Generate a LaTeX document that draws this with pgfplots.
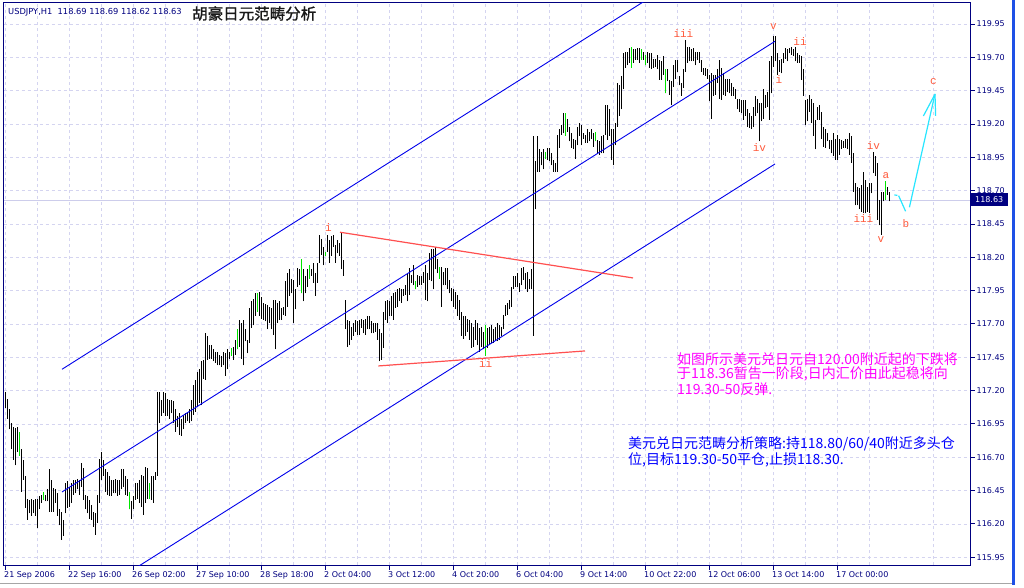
\documentclass[border=0pt]{standalone}
\usepackage{fontspec}
\setmainfont{Liberation Sans}
\newfontfamily\lblfont{DejaVu Sans}
\newfontfamily\cjk{Noto Sans CJK SC}
\newfontfamily\cjkb[FakeBold=1.2]{Noto Sans CJK SC}
\newfontfamily\wavefont{Liberation Mono}
\usepackage{pgfplots}
\usepackage{pgfplotstable}
\pgfplotsset{compat=1.18}

\definecolor{navyc}{RGB}{0,0,128}
\definecolor{gridc}{RGB}{212,212,240}
\definecolor{chanc}{RGB}{0,0,235}
\definecolor{tric}{RGB}{255,80,80}
\definecolor{wavec}{RGB}{255,90,60}
\definecolor{magc}{RGB}{255,0,255}
\definecolor{bluetxt}{RGB}{0,0,255}
\definecolor{greenbar}{RGB}{0,230,0}
\definecolor{projc}{RGB}{40,230,255}
\definecolor{lastc}{RGB}{205,205,235}
\definecolor{winblue}{RGB}{30,80,230}

\pgfplotstableread{
i lo hi
0 117.07 117.19
1 116.99 117.14
2 116.91 117.06
3 116.76 116.96
4 116.68 116.93
5 116.64 116.92
6 116.74 116.93
7 116.71 116.89
8 116.44 116.76
9 116.53 116.68
10 116.32 116.56
11 116.23 116.39
12 116.28 116.38
13 116.26 116.39
14 116.28 116.38
15 116.26 116.39
16 116.17 116.39
17 116.31 116.41
18 116.36 116.42
19 116.38 116.44
20 116.37 116.42
21 116.37 116.46
22 116.29 116.61
23 116.29 116.53
24 116.29 116.47
25 116.36 116.46
26 116.26 116.43
27 116.19 116.31
28 116.08 116.29
29 116.11 116.23
30 116.28 116.51
31 116.32 116.52
32 116.33 116.48
33 116.36 116.51
34 116.42 116.53
35 116.43 116.53
36 116.46 116.54
37 116.42 116.53
38 116.48 116.66
39 116.38 116.62
40 116.31 116.42
41 116.28 116.41
42 116.24 116.38
43 116.23 116.34
44 116.18 116.29
45 116.12 116.28
46 116.21 116.42
47 116.36 116.69
48 116.53 116.74
49 116.56 116.68
50 116.44 116.61
51 116.42 116.59
52 116.41 116.56
53 116.41 116.53
54 116.43 116.53
55 116.43 116.54
56 116.41 116.53
57 116.42 116.53
58 116.46 116.61
59 116.48 116.61
60 116.42 116.56
61 116.41 116.54
62 116.31 116.44
63 116.24 116.37
64 116.31 116.41
65 116.38 116.51
66 116.39 116.51
67 116.36 116.53
68 116.33 116.57
69 116.27 116.56
70 116.36 116.63
71 116.39 116.62
72 116.39 116.51
73 116.38 116.56
74 116.36 116.56
75 116.53 116.59
76 116.56 117.19
77 116.96 117.19
78 117.01 117.13
79 117.03 117.19
80 117.01 117.18
81 117.01 117.14
82 116.99 117.13
83 117.03 117.13
84 116.96 117.12
85 116.89 117.06
86 116.93 117.01
87 116.87 117.03
88 116.86 116.99
89 116.91 117.02
90 116.96 117.03
91 116.97 117.03
92 116.96 117.06
93 116.97 117.13
94 117.02 117.24
95 117.04 117.28
96 117.08 117.34
97 117.11 117.36
98 117.09 117.42
99 117.29 117.43
100 117.28 117.63
101 117.43 117.61
102 117.44 117.54
103 117.44 117.54
104 117.42 117.51
105 117.41 117.49
106 117.39 117.49
107 117.39 117.47
108 117.38 117.46
109 117.39 117.49
110 117.31 117.48
111 117.36 117.51
112 117.44 117.49
113 117.46 117.52
114 117.43 117.53
115 117.47 117.58
116 117.51 117.66
117 117.53 117.73
118 117.44 117.71
119 117.39 117.73
120 117.57 117.66
121 117.48 117.58
122 117.56 117.82
123 117.67 117.87
124 117.69 117.89
125 117.76 117.93
126 117.79 117.93
127 117.76 117.94
128 117.74 117.90
129 117.73 117.86
130 117.72 117.85
131 117.66 117.84
132 117.71 117.83
133 117.66 117.82
134 117.62 117.88
135 117.51 117.88
136 117.71 117.86
137 117.73 117.87
138 117.73 117.82
139 117.77 117.83
140 117.76 118.02
141 117.83 118.08
142 117.91 118.11
143 117.93 118.04
144 117.71 118.03
145 117.81 117.96
146 117.98 118.12
147 117.99 118.11
148 117.93 118.19
149 117.87 118.11
150 117.93 118.06
151 117.98 118.11
152 118.04 118.14
153 118.06 118.11
154 118.01 118.16
155 117.91 118.08
156 118.01 118.16
157 118.16 118.37
158 118.22 118.34
159 118.14 118.28
160 118.21 118.24
161 118.24 118.37
162 118.16 118.33
163 118.21 118.36
164 118.28 118.37
165 118.16 118.29
166 118.23 118.33
167 118.21 118.31
168 118.11 118.39
169 118.06 118.18
170 117.66 117.88
171 117.53 117.73
172 117.54 117.72
173 117.58 117.68
174 117.61 117.71
175 117.64 117.73
176 117.62 117.72
177 117.62 117.73
178 117.67 117.74
179 117.63 117.73
180 117.62 117.74
181 117.66 117.76
182 117.66 117.76
183 117.63 117.72
184 117.63 117.71
185 117.64 117.71
186 117.58 117.71
187 117.42 117.66
188 117.43 117.63
189 117.52 117.79
190 117.73 117.87
191 117.71 117.88
192 117.76 117.87
193 117.76 117.91
194 117.73 117.93
195 117.82 117.94
196 117.83 117.96
197 117.87 117.97
198 117.86 117.96
199 117.91 117.96
200 117.92 117.99
201 117.87 118.08
202 117.92 118.12
203 118.01 118.07
204 117.99 118.14
205 117.96 118.02
206 117.98 118.07
207 117.99 118.06
208 117.99 118.06
209 118.01 118.09
210 117.88 118.14
211 117.87 118.08
212 118.03 118.23
213 118.02 118.26
214 117.96 118.26
215 118.11 118.28
216 118.08 118.19
217 118.04 118.13
218 117.83 118.13
219 117.99 118.09
220 117.99 118.12
221 117.96 118.12
222 117.93 118.03
223 117.87 117.97
224 117.83 117.96
225 117.81 117.94
226 117.76 117.92
227 117.73 117.88
228 117.61 117.79
229 117.59 117.76
230 117.61 117.76
231 117.64 117.74
232 117.58 117.73
233 117.52 117.71
234 117.53 117.68
235 117.58 117.73
236 117.54 117.71
237 117.49 117.67
238 117.53 117.68
239 117.51 117.64
240 117.46 117.69
241 117.52 117.67
242 117.54 117.68
243 117.56 117.69
244 117.56 117.66
245 117.58 117.68
246 117.57 117.71
247 117.58 117.69
248 117.61 117.68
249 117.66 117.77
250 117.76 117.84
251 117.77 117.86
252 117.81 117.88
253 117.83 117.98
254 117.96 118.06
255 117.98 118.06
256 117.98 118.08
257 117.94 118.01
258 117.99 118.12
259 118.03 118.13
260 117.96 118.08
261 117.94 118.09
262 117.96 118.04
263 117.96 118.11
264 117.61 119.11
265 118.56 118.92
266 118.84 119.11
267 118.84 119.01
268 118.89 118.99
269 118.86 119.01
270 118.94 118.99
271 118.93 119.02
272 118.92 119.02
273 118.89 118.98
274 118.84 118.93
275 118.84 118.91
276 118.84 119.12
277 119.02 119.16
278 119.12 119.19
279 119.13 119.28
280 119.11 119.28
281 119.14 119.24
282 119.07 119.18
283 119.02 119.13
284 119.01 119.09
285 118.94 119.08
286 119.04 119.18
287 119.11 119.21
288 119.04 119.19
289 119.09 119.13
290 119.06 119.12
291 119.06 119.16
292 119.07 119.14
293 119.09 119.16
294 119.03 119.13
295 119.07 119.14
296 118.98 119.08
297 118.97 119.07
298 118.98 119.11
299 118.98 119.12
300 119.12 119.34
301 119.08 119.34
302 119.11 119.31
303 118.93 119.16
304 118.89 119.16
305 119.04 119.21
306 119.18 119.51
307 119.26 119.49
308 119.31 119.56
309 119.46 119.73
310 119.62 119.74
311 119.64 119.74
312 119.66 119.77
313 119.62 119.78
314 119.66 119.76
315 119.68 119.76
316 119.68 119.77
317 119.66 119.77
318 119.68 119.76
319 119.68 119.74
320 119.64 119.72
321 119.66 119.74
322 119.62 119.73
323 119.61 119.73
324 119.62 119.69
325 119.63 119.69
326 119.61 119.72
327 119.53 119.68
328 119.53 119.67
329 119.57 119.71
330 119.43 119.61
331 119.52 119.61
332 119.42 119.53
333 119.34 119.52
334 119.48 119.64
335 119.54 119.68
336 119.59 119.68
337 119.49 119.56
338 119.41 119.51
339 119.47 119.61
340 119.59 119.83
341 119.66 119.78
342 119.67 119.78
343 119.67 119.76
344 119.67 119.77
345 119.64 119.74
346 119.68 119.74
347 119.66 119.74
348 119.59 119.68
349 119.57 119.62
350 119.56 119.62
351 119.54 119.61
352 119.37 119.57
353 119.24 119.58
354 119.41 119.57
355 119.42 119.57
356 119.51 119.61
357 119.39 119.68
358 119.38 119.62
359 119.42 119.58
360 119.41 119.54
361 119.44 119.54
362 119.43 119.54
363 119.41 119.51
364 119.41 119.48
365 119.39 119.46
366 119.31 119.39
367 119.29 119.39
368 119.28 119.38
369 119.23 119.38
370 119.26 119.38
371 119.18 119.31
372 119.17 119.28
373 119.16 119.26
374 119.18 119.33
375 119.26 119.41
376 119.28 119.39
377 119.07 119.36
378 119.22 119.36
379 119.24 119.46
380 119.32 119.42
381 119.33 119.44
382 119.23 119.67
383 119.43 119.71
384 119.63 119.86
385 119.67 119.86
386 119.57 119.73
387 119.59 119.68
388 119.58 119.69
389 119.66 119.73
390 119.69 119.77
391 119.67 119.76
392 119.73 119.77
393 119.72 119.78
394 119.71 119.76
395 119.67 119.78
396 119.66 119.73
397 119.66 119.72
398 119.53 119.71
399 119.41 119.61
400 119.19 119.38
401 119.22 119.39
402 119.29 119.42
403 119.21 119.39
404 119.11 119.36
405 119.01 119.23
406 119.23 119.33
407 119.23 119.34
408 119.09 119.29
409 119.03 119.18
410 119.02 119.16
411 119.07 119.13
412 119.01 119.08
413 118.98 119.08
414 118.96 119.13
415 118.93 119.09
416 118.93 119.12
417 118.97 119.09
418 119.01 119.08
419 119.02 119.07
420 119.02 119.09
421 119.01 119.09
422 118.97 119.13
423 118.91 119.11
424 118.69 118.98
425 118.59 118.76
426 118.59 118.73
427 118.56 118.72
428 118.54 118.74
429 118.53 118.84
430 118.53 118.78
431 118.54 118.73
432 118.53 118.76
433 118.68 118.76
434 118.83 118.99
435 118.81 118.96
436 118.48 118.91
437 118.44 118.63
438 118.37 118.69
439 118.62 118.69
440 118.63 118.77
441 118.67 118.73
442 118.62 118.69
}\bars

\pgfplotstableread{
i lo hi
7 116.71 116.89
19 116.38 116.44
62 116.31 116.44
72 116.39 116.51
113 117.46 117.52
116 117.51 117.66
126 117.79 117.93
148 117.93 118.19
152 118.04 118.14
160 118.21 118.24
205 117.96 118.02
217 118.04 118.13
240 117.46 117.69
270 118.94 118.99
280 119.11 119.28
295 119.07 119.14
313 119.62 119.78
318 119.68 119.76
320 119.64 119.72
330 119.43 119.61
440 118.63 118.77
}\greenbars

\begin{document}
\begin{tikzpicture}[x=1pt,y=1pt]
\fill[white] (-3.5,-22) rectangle (1020.5,565);
\path[use as bounding box] (-3.5,-22) rectangle (1020.5,565);
% window chrome
\fill[winblue] (1008,-20) rectangle (1011,565);
\draw[black!35, line width=1pt] (-3.5,-18.5) -- (1008,-18.5);
\begin{axis}[
  at={(0,0)}, anchor=south west,
  scale only axis, width=966.5pt, height=562.5pt,
  xmin=-0.75, xmax=482.5, ymin=115.892, ymax=120.111,
  axis line style={navyc, line width=0.9pt},
  xtick={0,32,64,96,128,160,192,224,256,288,320,352,384,416},
  xticklabels={21 Sep 2006,22 Sep 16:00,26 Sep 02:00,27 Sep 10:00,28 Sep 18:00,2 Oct 04:00,3 Oct 12:00,4 Oct 20:00,6 Oct 04:00,9 Oct 14:00,10 Oct 22:00,12 Oct 06:00,13 Oct 14:00,17 Oct 00:00},
  minor xtick={16,48,80,112,144,176,208,240,272,304,336,368,400,432,464},
  ytick={115.95,116.20,116.45,116.70,116.95,117.20,117.45,117.70,117.95,118.20,118.45,118.70,118.95,119.20,119.45,119.70,119.95},
  yticklabels={115.95,116.20,116.45,116.70,116.95,117.20,117.45,117.70,117.95,118.20,118.45,118.70,118.95,119.20,119.45,119.70,119.95},
  xtick pos=bottom, ytick pos=right, yticklabel pos=right,
  tick align=outside, major tick length=4.5pt, minor tick length=0pt,
  tick style={navyc, line width=0.9pt},
  xmajorgrids, xminorgrids, ymajorgrids,
  major grid style={gridc, dash pattern=on 3pt off 3pt, line width=0.8pt},
  minor grid style={gridc, dash pattern=on 3pt off 3pt, line width=0.8pt},
  xticklabel style={anchor=north west, font=\lblfont\fontsize{8}{9}\selectfont, text=navyc, inner sep=0pt, xshift=-1pt, yshift=-1.5pt},
  yticklabel style={anchor=west, font=\lblfont\fontsize{8}{9}\selectfont, text=navyc, inner sep=0pt, xshift=2pt},
  clip=true,
]
% last price line
\addplot[lastc, line width=0.9pt, forget plot] coordinates {(-0.75,118.63) (482.5,118.63)};
% price bars (low to high)
\addplot[draw=none, mark=none, forget plot,
  error bars/.cd, y dir=plus, y explicit, error mark=none,
  error bar style={draw=black, line width=0.95pt}]
  table[x=i, y=lo, y error plus expr=\thisrow{hi}-\thisrow{lo}] {\bars};
\addplot[draw=none, mark=none, forget plot,
  error bars/.cd, y dir=plus, y explicit, error mark=none,
  error bar style={draw=greenbar, line width=0.95pt}]
  table[x=i, y=lo, y error plus expr=\thisrow{hi}-\thisrow{lo}] {\greenbars};
% channel
\addplot[chanc, line width=0.9pt] coordinates {(28.5,117.36) (385,120.74)};
\addplot[chanc, line width=0.9pt] coordinates {(28.5,116.44) (385,119.82)};
\addplot[chanc, line width=0.9pt] coordinates {(28.5,115.52) (385,118.90)};
% triangle
\addplot[tric, line width=1.2pt] coordinates {(167.5,118.388) (314,118.045)};
\addplot[tric, line width=1.2pt] coordinates {(186.7,117.385) (290,117.4975)};
% projection
\addplot[projc, line width=1.2pt] coordinates {(444.7,118.667) (446.2,118.665)};
\addplot[projc, line width=1.2pt] coordinates {(446.8,118.662) (450.3,118.545)};
\addplot[projc, line width=1.2pt] coordinates {(452.2,118.575) (465,119.425)};
\addplot[projc, line width=1.2pt] coordinates {(459.2,119.26) (464.7,119.415)};
\addplot[projc, line width=1.2pt] coordinates {(465,119.425) (465.3,119.26)};
% wave labels
\begin{scope}[every node/.style={text=wavec, font=\wavefont\fontsize{11}{12}\selectfont, inner sep=0pt}]
\node at (axis cs:161.7,118.427) {i};
\node at (axis cs:240.3,117.40) {ii};
\node at (axis cs:339.2,119.88) {iii};
\node at (axis cs:377.2,119.025) {iv};
\node at (axis cs:384.2,119.93) {v};
\node at (axis cs:387,119.53) {i};
\node at (axis cs:397.5,119.817) {ii};
\node at (axis cs:434.2,119.037) {iv};
\node at (axis cs:429.2,118.49) {iii};
\node at (axis cs:438,118.33) {v};
\node at (axis cs:440.5,118.81) {a};
\node at (axis cs:450.5,118.455) {b};
\node at (axis cs:464.2,119.517) {c};
\end{scope}
\end{axis}
% last price box
\fill[navyc] (967,358.5) rectangle (1004,371.5);
\node[anchor=west, inner sep=0pt, text=white, font=\lblfont\fontsize{8}{9}\selectfont] at (971.5,365) {118.63};
% header
\node[anchor=west, inner sep=0pt, text=navyc, font=\lblfont\fontsize{8.3}{9}\selectfont] at (4.5,552.5) {USDJPY,H1\ \ 118.69 118.69 118.62 118.63};
\node[anchor=west, inner sep=0pt, text=black!90, font=\cjkb\fontsize{15.5}{16}\selectfont] at (188.5,551.5) {胡豪日元范畴分析};
% annotations
\begin{scope}[every node/.style={anchor=west, inner sep=0pt, font=\cjk\fontsize{14}{15}\selectfont}]
\node[text=magc] at (673.5,206) {如图所示美元兑日元自120.00附近起的下跌将};
\node[text=magc] at (673.5,191) {于118.36暂告一阶段,日内汇价由此起稳将向};
\node[text=magc] at (673.5,176) {119.30-50反弹.};
\node[text=bluetxt] at (624.5,121.5) {美元兑日元范畴分析策略:持118.80/60/40附近多头仓};
\node[text=bluetxt] at (624.5,105.5) {位,目标119.30-50平仓,止损118.30.};
\end{scope}
\end{tikzpicture}
\end{document}
